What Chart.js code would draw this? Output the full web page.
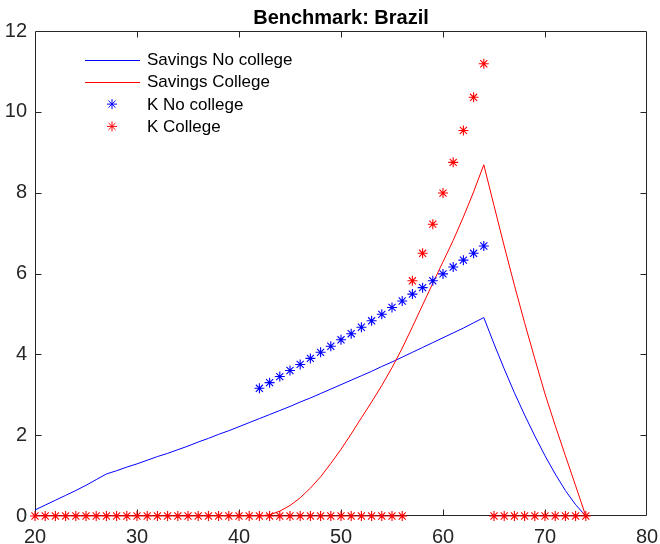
<!DOCTYPE html>
<html><head><meta charset="utf-8">
<script src="https://cdn.jsdelivr.net/npm/chart.js@4.4.1/dist/chart.umd.min.js"></script>
<style>html,body{margin:0;padding:0;background:#fff;}</style>
</head><body>
<canvas id="c" width="660" height="544"></canvas>
<script>
const titleText = 'Benchmark: Brazil';
const seriesNames = ['Savings No college', 'Savings College', 'K No college', 'K College'];
const xTicks = [20, 30, 40, 50, 60, 70, 80];
const yTicks = [0, 2, 4, 6, 8, 10, 12];
const ages = [20,21,22,23,24,25,26,27,28,29,30,31,32,33,34,35,36,37,38,39,40,41,42,43,44,45,46,47,48,49,50,51,52,53,54,55,56,57,58,59,60,61,62,63,64,65,66,67,68,69,70,71,72,73,74];
const savingsNoCollege = [0.15,0.27,0.39,0.51,0.63,0.76,0.90,
  1.04,1.12,1.21,1.29,1.38,1.47,1.55,1.64,1.73,1.83,1.92,2.02,2.11,2.21,2.31,2.41,2.51,2.61,2.71,2.82,
  2.92,3.03,3.14,3.25,3.36,3.47,3.58,3.70,3.81,3.93,4.05,4.17,4.29,4.41,4.53,4.65,4.78,4.91,
  4.26,3.64,3.05,2.50,1.98,1.49,1.04,0.63,0.28,0];
const savingsCollege = [0,0,0,0,0,0,0,0,0,0,0,0,0,0,0,0,0,0,0,0,0,0,0,
  0.03,0.12,0.26,0.45,0.69,0.97,1.30,1.65,2.03,2.43,2.82,3.23,3.67,4.15,4.68,5.22,5.76,6.29,6.82,7.40,8.02,8.69,
  7.68,6.68,5.71,4.78,3.89,3.02,2.24,1.49,0.75,0];
const kNoCollege = [null,null,null,null,null,null,null,null,null,null,null,null,null,null,null,null,null,null,null,null,null,null,
  3.16,3.30,3.45,3.60,3.75,3.90,4.05,4.20,4.36,4.51,4.67,4.83,4.99,5.16,5.32,5.49,5.65,5.82,5.99,6.16,6.33,6.50,6.68,
  null,null,null,null,null,null,null,null,null,null];
const kCollege = [0,0,0,0,0,0,0,0,0,0,0,0,0,0,0,0,0,0,0,0,0,0,0,0,0,0,0,0,0,0,0,0,0,0,0,0,0,
  5.82,6.50,7.22,7.99,8.75,9.54,10.36,11.19,
  0,0,0,0,0,0,0,0,0,0];

const BLUE = 'rgb(0,0,255)', RED = 'rgb(255,0,0)', AX = '#262626';
const FONT = '"Liberation Sans", Arial, Helvetica, sans-serif';
const pts = arr => ages.map((a, i) => ({x: a, y: arr[i]}));

function drawStar(ctx, x, y, r) {
  ctx.beginPath();
  for (let k = 0; k < 4; k++) {
    const ang = k * Math.PI / 4;
    const dx = Math.cos(ang) * r, dy = Math.sin(ang) * r;
    ctx.moveTo(x - dx, y - dy); ctx.lineTo(x + dx, y + dy);
  }
  ctx.stroke();
}

const matlabFrame = {
  id: 'matlabFrame',
  beforeDatasetsDraw(chart) {
    const {ctx, chartArea: a, scales: {x, y}} = chart;
    ctx.save();
    ctx.strokeStyle = AX; ctx.lineWidth = 1;
    const L = Math.round(a.left) + 0.5, R = Math.round(a.right) - 0.5;
    const T = Math.round(a.top) + 0.5, B = Math.round(a.bottom) - 0.5;
    ctx.beginPath();
    ctx.rect(L, T, R - L, B - T);
    const tl = 6;
    xTicks.forEach(v => {
      if (v <= x.min || v >= x.max) return;
      const p = Math.round(x.getPixelForValue(v)) + 0.5;
      ctx.moveTo(p, B); ctx.lineTo(p, B - tl);
      ctx.moveTo(p, T); ctx.lineTo(p, T + tl);
    });
    yTicks.forEach(v => {
      if (v <= y.min || v >= y.max) return;
      const p = Math.round(y.getPixelForValue(v)) + 0.5;
      ctx.moveTo(L, p); ctx.lineTo(L + tl, p);
      ctx.moveTo(R, p); ctx.lineTo(R - tl, p);
    });
    ctx.stroke();
    ctx.restore();
  },
  afterDraw(chart) {
    const {ctx, chartArea: a} = chart;
    ctx.save();
    ctx.fillStyle = '#000';
    ctx.font = 'bold 20px ' + FONT;
    ctx.textAlign = 'center'; ctx.textBaseline = 'alphabetic';
    ctx.fillText(titleText, (a.left + a.right) / 2, 24);
    // legend
    const colors = [BLUE, RED, BLUE, RED];
    ctx.font = '17px ' + FONT;
    ctx.textAlign = 'left'; ctx.textBaseline = 'middle';
    seriesNames.forEach((name, i) => {
      const yy = 59.5 + i * 22.3;
      ctx.strokeStyle = colors[i]; ctx.lineWidth = 1;
      if (i < 2) {
        ctx.beginPath(); ctx.moveTo(85, Math.round(yy) + 0.5); ctx.lineTo(140, Math.round(yy) + 0.5); ctx.stroke();
      } else {
        drawStar(ctx, 112, yy, 5);
      }
      ctx.fillStyle = '#000';
      ctx.fillText(name, 147, yy + 1);
    });
    ctx.restore();
  }
};

new Chart(document.getElementById('c'), {
  type: 'scatter',
  data: {
    datasets: [
      {label: seriesNames[0], data: pts(savingsNoCollege), showLine: true, borderColor: BLUE, borderWidth: 1, pointRadius: 0, order: 3, tension: 0},
      {label: seriesNames[1], data: pts(savingsCollege), showLine: true, borderColor: RED, borderWidth: 1, pointRadius: 0, order: 2, tension: 0},
      {label: seriesNames[2], data: pts(kNoCollege), showLine: false, borderColor: BLUE, backgroundColor: BLUE, pointStyle: 'star', pointRadius: 5, pointBorderWidth: 1.1, order: 1, clip: false},
      {label: seriesNames[3], data: pts(kCollege), showLine: false, borderColor: RED, backgroundColor: RED, pointStyle: 'star', pointRadius: 5, pointBorderWidth: 1.1, order: 0, clip: false}
    ]
  },
  options: {
    responsive: false, animation: false, events: [],
    layout: {padding: {left: 0, top: 31, right: 13, bottom: 0}},
    plugins: {legend: {display: false}, title: {display: false}, tooltip: {enabled: false}},
    scales: {
      x: {
        type: 'linear', min: 20, max: 80,
        afterBuildTicks: s => { s.ticks = xTicks.map(v => ({value: v})); },
        afterFit: s => { s.height = 28; s.paddingLeft = 0; s.paddingRight = 0; },
        grid: {display: false, drawTicks: false}, border: {display: false},
        ticks: {color: AX, font: {family: FONT, size: 20}, padding: 9, maxRotation: 0}
      },
      y: {
        type: 'linear', min: 0, max: 12,
        afterBuildTicks: s => { s.ticks = yTicks.map(v => ({value: v})); },
        afterFit: s => { s.width = 35; s.paddingTop = 0; s.paddingBottom = 0; },
        grid: {display: false, drawTicks: false}, border: {display: false},
        ticks: {color: AX, font: {family: FONT, size: 20}, padding: 8}
      }
    }
  },
  plugins: [matlabFrame]
});
</script>
</body></html>
